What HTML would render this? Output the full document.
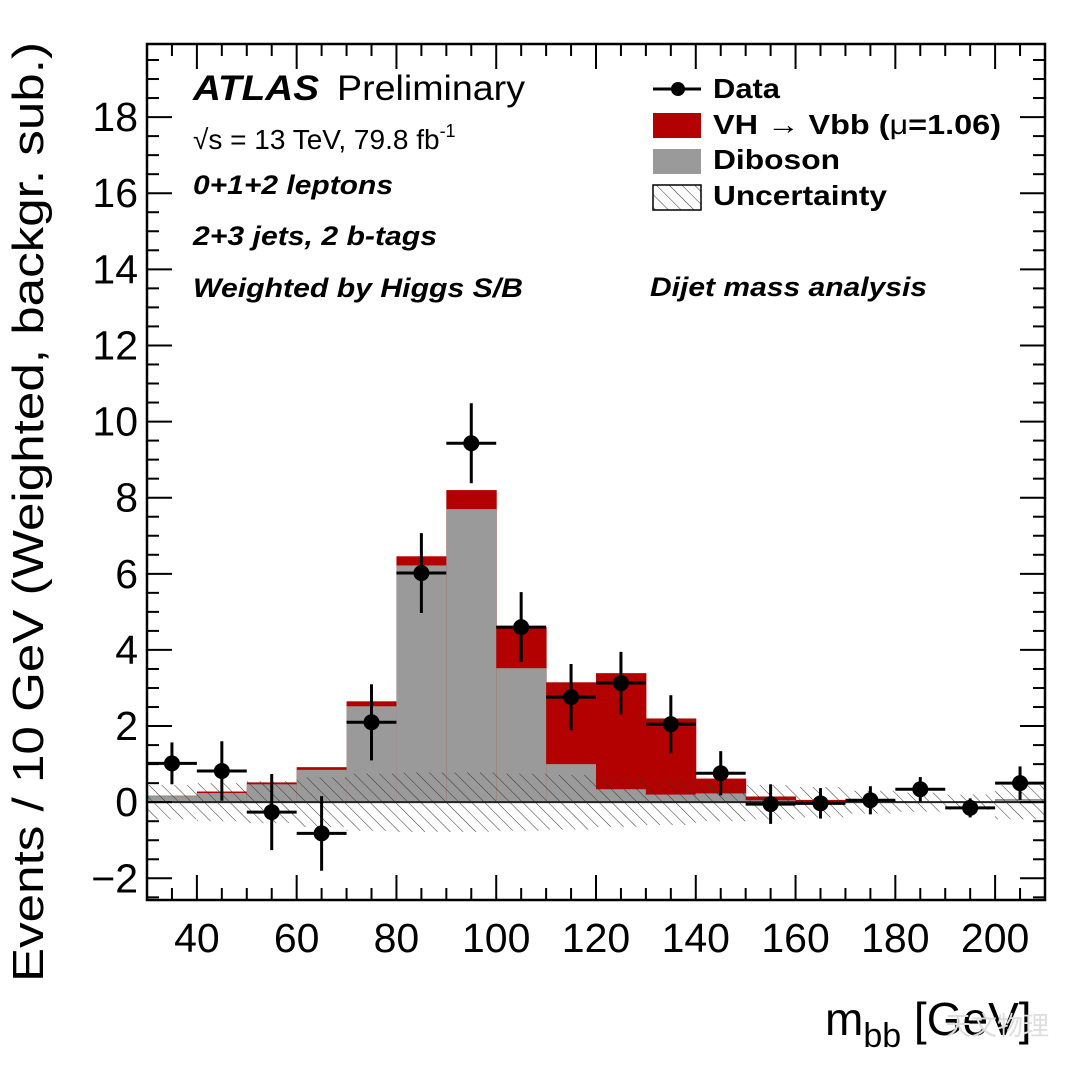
<!DOCTYPE html>
<html><head><meta charset="utf-8"><style>
html,body{margin:0;padding:0;background:#fff;}
svg{display:block;font-family:"Liberation Sans",Arial,sans-serif;}
</style></head><body>
<svg id="chart" width="1080" height="1074" viewBox="0 0 1080 1074" xmlns="http://www.w3.org/2000/svg">
<defs>
<pattern id="hatch" patternUnits="userSpaceOnUse" width="9" height="9" patternTransform="rotate(-45)">
<line x1="0" y1="0" x2="0" y2="9" stroke="#333" stroke-width="1"/>
</pattern>
<clipPath id="plotclip"><rect x="147" y="44" width="898" height="856"/></clipPath>
</defs>
<g id="bars" clip-path="url(#plotclip)"></g>
<g id="axes"></g>
<g id="points"></g>
<g>
<text x="193" y="100" font-size="35" font-weight="bold" font-style="italic" textLength="126" lengthAdjust="spacingAndGlyphs">ATLAS</text>
<text x="337" y="100" font-size="35" textLength="188" lengthAdjust="spacingAndGlyphs">Preliminary</text>
</g>
<text x="193" y="149" font-size="28">√s = 13 TeV, 79.8 fb<tspan dy="-12" font-size="18">-1</tspan></text>
<text x="193" y="194" font-size="27" font-weight="bold" font-style="italic" textLength="200" lengthAdjust="spacingAndGlyphs">0+1+2 leptons</text>
<text x="193" y="245" font-size="27" font-weight="bold" font-style="italic" textLength="244" lengthAdjust="spacingAndGlyphs">2+3 jets, 2 b-tags</text>
<text x="193" y="297" font-size="27" font-weight="bold" font-style="italic" textLength="330" lengthAdjust="spacingAndGlyphs">Weighted by Higgs S/B</text>
<text x="650" y="296" font-size="27" font-weight="bold" font-style="italic" textLength="277" lengthAdjust="spacingAndGlyphs">Dijet mass analysis</text>
<g font-size="28" font-weight="bold">
<g>
<line x1="653" y1="89" x2="701" y2="89" stroke="#000" stroke-width="3"/>
<circle cx="678" cy="89" r="7" fill="#000"/>
<text x="713" y="98" textLength="67" lengthAdjust="spacingAndGlyphs">Data</text></g>
<g>
<rect x="653" y="113" width="48" height="25" fill="#b30000"/>
<text x="713" y="134" textLength="288" lengthAdjust="spacingAndGlyphs">VH  → Vbb (<tspan font-weight="normal">μ</tspan>=1.06)</text></g>
<g>
<rect x="653" y="149" width="48" height="25" fill="#9a9a9a"/>
<text x="713" y="169" textLength="127" lengthAdjust="spacingAndGlyphs">Diboson</text></g>
<g>
<rect x="653" y="185" width="48" height="25" fill="url(#hatch)" stroke="#000" stroke-width="1.5"/>
<text x="713" y="205" textLength="174" lengthAdjust="spacingAndGlyphs">Uncertainty</text></g>
</g>
<text transform="translate(43,512) rotate(-90)" text-anchor="middle" font-size="44" textLength="940" lengthAdjust="spacingAndGlyphs">Events / 10 GeV (Weighted, backgr. sub.)</text>
<text x="825" y="1035" font-size="46">m<tspan dy="12" font-size="34">bb</tspan><tspan dy="-12"> [GeV]</tspan></text>
<text x="945" y="1035" font-size="26" fill="#ddd" font-family="'Noto Sans CJK SC',sans-serif">天文物理</text>
</svg>
<script>
const binCenters=[35,45,55,65,75,85,95,105,115,125,135,145,155,165,175,185,195,205];
const diboson=[0.16,0.24,0.47,0.85,2.52,6.22,7.7,3.52,1.0,0.34,0.2,0.23,0.05,0.03,0.03,0.02,0.02,0.08];
const totalStack=[0.17,0.28,0.52,0.92,2.65,6.46,8.2,4.6,3.15,3.39,2.2,0.62,0.15,0.06,0.04,0.02,0.02,0.08];
const uncert=[0.45,0.5,0.55,0.65,0.75,0.78,0.78,0.75,0.72,0.65,0.6,0.5,0.45,0.4,0.3,0.25,0.2,0.45];
const dataVals=[1.02,0.82,-0.26,-0.82,2.1,6.02,9.43,4.6,2.76,3.13,2.05,0.76,-0.05,-0.03,0.05,0.34,-0.15,0.5];
const dataErr=[0.55,0.78,1.0,0.98,1.0,1.05,1.05,0.92,0.87,0.82,0.76,0.58,0.52,0.4,0.37,0.32,0.25,0.44];
const xTicks=[40,60,80,100,120,140,160,180,200];
const yTicks=[-2,0,2,4,6,8,10,12,14,16,18];
const binW=10;
const X0=147,X1=1045,Y0=44,Y1=900;
const xmin=30,xmax=210,ymin=-2.57,ymax=19.92;
const sx=v=>X0+(v-xmin)/(xmax-xmin)*(X1-X0);
const sy=v=>Y1-(v-ymin)/(ymax-ymin)*(Y1-Y0);
const NS="http://www.w3.org/2000/svg";
function mk(tag,attrs,parent){const e=document.createElementNS(NS,tag);for(const k in attrs)e.setAttribute(k,attrs[k]);parent.appendChild(e);return e;}
const bars=document.getElementById('bars'),axes=document.getElementById('axes'),pts=document.getElementById('points');
binCenters.forEach((c,i)=>{
 const xl=sx(c-binW/2),xr=sx(c+binW/2);
 const r=mk('rect',{x:xl,y:sy(totalStack[i]),width:xr-xl+0.5,height:sy(0)-sy(totalStack[i]),fill:'#b30000'},bars);
 
 
 const g=mk('rect',{x:xl,y:sy(diboson[i]),width:xr-xl+0.5,height:sy(0)-sy(diboson[i]),fill:'#9a9a9a'},bars);
 
 
});
binCenters.forEach((c,i)=>{
 const xl=sx(c-binW/2),xr=sx(c+binW/2);
 const h=mk('rect',{x:xl,y:sy(uncert[i]),width:xr-xl,height:sy(-uncert[i])-sy(uncert[i]),fill:'url(#hatch)'},bars);
 
 
});
const zl=mk('line',{x1:X0,x2:X1,y1:sy(0),y2:sy(0),stroke:'#222','stroke-width':2},bars);


const fr=mk('rect',{x:X0,y:Y0,width:X1-X0,height:Y1-Y0,fill:'none',stroke:'#000','stroke-width':2.5},axes);


for(let v=30;v<=210;v+=5){
 const L=(v%20===0)?25:12;
 mk('line',{x1:sx(v),x2:sx(v),y1:Y1,y2:Y1-L,stroke:'#000','stroke-width':2},axes);
 mk('line',{x1:sx(v),x2:sx(v),y1:Y0,y2:Y0+L,stroke:'#000','stroke-width':2},axes);
}
xTicks.forEach(v=>{
 const t=mk('text',{x:sx(v),y:952,'text-anchor':'middle','font-size':41},axes);
 t.textContent=v;
 
 
});
for(let v=-2.5;v<=19.5;v+=0.5){
 const L=(Math.abs(v%2)<1e-9)?25:12;
 mk('line',{x1:X0,x2:X0+L,y1:sy(v),y2:sy(v),stroke:'#000','stroke-width':2},axes);
 mk('line',{x1:X1,x2:X1-L,y1:sy(v),y2:sy(v),stroke:'#000','stroke-width':2},axes);
}
yTicks.forEach(v=>{
 const t=mk('text',{x:138,y:sy(v)+14,'text-anchor':'end','font-size':41},axes);
 t.textContent=v<0?'\u2212'+Math.abs(v):v;
 
 
});
binCenters.forEach((c,i)=>{
 const g=mk('g',{},pts);
 
 
 mk('line',{x1:sx(c-binW/2),x2:sx(c+binW/2),y1:sy(dataVals[i]),y2:sy(dataVals[i]),stroke:'#000','stroke-width':3},g);
 mk('line',{x1:sx(c),x2:sx(c),y1:sy(dataVals[i]-dataErr[i]),y2:sy(dataVals[i]+dataErr[i]),stroke:'#000','stroke-width':3},g);
 mk('circle',{cx:sx(c),cy:sy(dataVals[i]),r:8,fill:'#000'},g);
});
</script>
</body></html>
